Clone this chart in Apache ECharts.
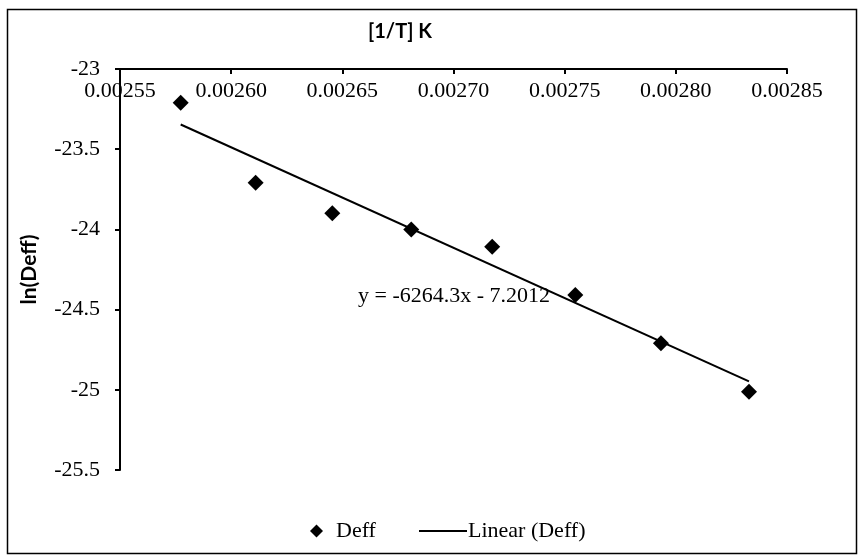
<!DOCTYPE html>
<html>
<head>
<meta charset="utf-8">
<script src="https://cdn.jsdelivr.net/npm/echarts@6/dist/echarts.min.js"></script>
<style>
html,body{margin:0;padding:0;background:#fff;}
#c{width:863px;height:560px;}
</style>
</head>
<body>
<div id="c"></div>
<script>
// Data
var invT = [0.0025773, 0.0026110, 0.0026455, 0.0026810, 0.0027174, 0.0027548, 0.0027933, 0.0028329];
var lnDeff = [-23.21, -23.709, -23.90, -24.00, -24.108, -24.409, -24.710, -25.012];
var trendX = [0.0025773, 0.0028329];
var trendY = [-23.346, -24.947];
var xTicks = ['0.00255','0.00260','0.00265','0.00270','0.00275','0.00280','0.00285'];
var yTicks = ['-23','-23.5','-24','-24.5','-25','-25.5'];
var equation = 'y = -6264.3x - 7.2012';
var xTitle = '[1/T] K';
var yTitle = 'ln(Deff)';

var chart = echarts.init(document.getElementById('c'), null, {renderer:'canvas'});
var serif = '"Liberation Serif", "Times New Roman", serif';
var sans = 'Lato, "Open Sans", sans-serif';

var option = {
  animation: false,
  backgroundColor: '#fff',
  grid: {left: 120, right: 76, top: 69, bottom: 90, containLabel: false},
  xAxis: {
    type: 'value',
    position: 'top',
    min: 0.00255, max: 0.00285, interval: 0.00005,
    axisLine: {show: true, lineStyle: {color: '#000', width: 2}},
    axisTick: {show: true, inside: true, length: 5, lineStyle: {color: '#000', width: 2}},
    axisLabel: {
      inside: true, margin: 11, color: '#000', fontFamily: serif, fontSize: 22,
      formatter: function(v){ var s = v.toFixed(5); var i = xTicks.indexOf(s); return i >= 0 ? xTicks[i] : s; }
    },
    splitLine: {show: false}
  },
  yAxis: {
    type: 'value',
    min: -25.5, max: -23, interval: 0.5,
    name: yTitle,
    nameLocation: 'middle',
    nameRotate: 90,
    nameGap: 80,
    nameTextStyle: {fontFamily: sans, fontWeight: 'bold', fontSize: 21, color: '#000'},
    axisLine: {show: true, onZero: false, lineStyle: {color: '#000', width: 2}},
    axisTick: {show: true, length: 5, lineStyle: {color: '#000', width: 2}},
    axisLabel: {
      margin: 20, color: '#000', fontFamily: serif, fontSize: 22,
      formatter: function(v){ return String(Math.round(v*10)/10); }
    },
    splitLine: {show: false}
  },
  legend: [
    {
      data: [{name: 'Deff', icon: 'diamond'}],
      left: 305, top: 515,
      itemWidth: 13, itemHeight: 13, itemGap: 10,
      textStyle: {fontFamily: serif, fontSize: 22, color: '#000', padding: [0,0,0,8]}
    },
    {
      data: [{name: 'Linear (Deff)', icon: 'rect'}],
      left: 414, top: 515,
      itemWidth: 48, itemHeight: 2,
      textStyle: {fontFamily: serif, fontSize: 22, color: '#000', padding: [0,0,0,-4]}
    }
  ],
  graphic: [
    {type: 'rect', shape: {x: 7.5, y: 9.5, width: 849, height: 544},
     style: {fill: 'none', stroke: '#000', lineWidth: 1.5}, silent: true, z: -1},
    {type: 'text', left: 368, top: 22,
     style: {text: xTitle, font: 'bold 20px ' + sans, fill: '#000'}},
    {type: 'text', left: 358, top: 285,
     style: {text: equation, font: '22px ' + serif, fill: '#000'}}
  ],
  series: [
    {
      name: 'Deff',
      type: 'scatter',
      symbol: 'diamond',
      symbolSize: 16,
      itemStyle: {color: '#000', opacity: 1},
      data: invT.map(function(x,i){ return [x, lnDeff[i]]; }),
      z: 3
    },
    {
      name: 'Linear (Deff)',
      type: 'line',
      symbol: 'none',
      lineStyle: {color: '#000', width: 2},
      itemStyle: {color: '#000'},
      data: trendX.map(function(x,i){ return [x, trendY[i]]; }),
      z: 2
    }
  ]
};
chart.setOption(option);
</script>
</body>
</html>
